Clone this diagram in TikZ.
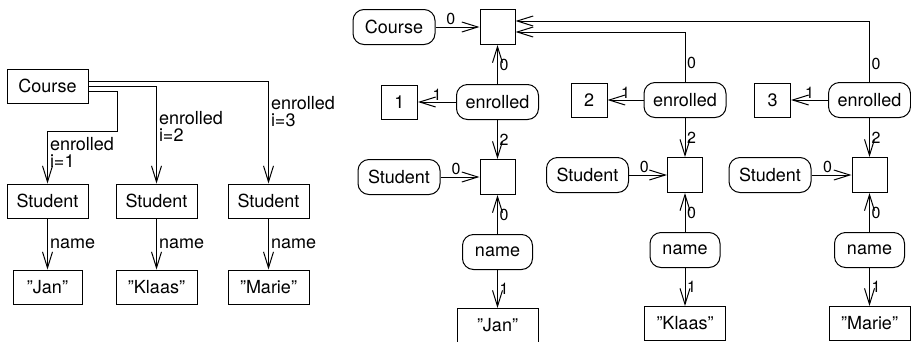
\documentclass[tikz,border=0pt]{standalone}
\usepackage{fontspec}
\setmainfont{TeX Gyre Heros}
\usepackage{tikz}
\usetikzlibrary{arrows.meta, positioning}

\begin{document}
\begin{tikzpicture}[
    x=1pt, y=-1pt,
    line width=1pt,
    font=\fontsize{18}{17}\selectfont,
    box/.style={draw, minimum width=81pt, minimum height=34pt, inner sep=2pt},
    attr/.style={draw, rounded corners=11pt, minimum width=82pt, minimum height=35pt, inner sep=2pt},
    hub/.style={draw, minimum width=35pt, minimum height=35pt, inner sep=0pt},
    arrow/.style={-{Straight Barb[length=16pt, width=10pt]}},
    lbl/.style={font=\fontsize{16}{16}\selectfont, inner sep=1.5pt},
    tag/.style={align=left, inner sep=2pt}
]
    \useasboundingbox (0,0) rectangle (911,341);

    % object diagram
    \node[box] (courseL) at (47.5,86) {Course};
    \node[box, below=80pt of courseL] (stuL1) {Student};
    \node[box, right=27pt of stuL1] (stuL2) {Student};
    \node[box, right=30pt of stuL2] (stuL3) {Student};
    \node[box, minimum width=69pt, below=51pt of stuL1] (valL1) {''Jan''};
    \node[box, below=51pt of stuL2] (valL2) {''Klaas''};
    \node[box, below=51pt of stuL3] (valL3) {''Marie''};
    \coordinate (bend1) at (117,131);

    \draw[arrow] ([yshift=-5pt]courseL.east) -| (bend1) -| (stuL1) node[tag, right, pos=0.7] {enrolled\\i=1};
    \draw[arrow] (courseL.east) -| (stuL2) node[tag, right, pos=0.705] {enrolled\\i=2};
    \draw[arrow] ([yshift=5pt]courseL.east) -| (stuL3) node[tag, right, pos=0.65] {enrolled\\i=3};
    \draw[arrow] (stuL1) -- node[tag, right] {name} (valL1);
    \draw[arrow] (stuL2) -- node[tag, right] {name} (valL2);
    \draw[arrow] (stuL3) -- node[tag, right] {name} (valL3);

    % graph encoding
    \node[hub] (top) at (497.5,27) {};
    \node[attr, left=44pt of top] (courseR) {Course};

    \node[attr, below=39pt of top] (enr1) {enrolled};
    \node[box, minimum width=36pt, left=38pt of enr1] (num1) {1};
    \node[hub, below=39pt of enr1] (obj1) {};
    \node[attr, left=39pt of obj1] (stuR1) {Student};
    \node[attr, minimum width=70pt, below=39pt of obj1] (name1) {name};
    \node[box, below=38pt of name1] (valR1) {''Jan''};

    \node[attr] (enr2) at (685,100) {enrolled};
    \node[box, minimum width=36pt, left=36pt of enr2] (num2) {2};
    \node[hub, below=39pt of enr2] (obj2) {};
    \node[attr, left=38pt of obj2] (stuR2) {Student};
    \node[attr, minimum width=70pt, below=39pt of obj2] (name2) {name};
    \node[box, below=38pt of name2] (valR2) {''Klaas''};

    \node[attr] (enr3) at (869.5,100) {enrolled};
    \node[box, minimum width=36pt, left=37pt of enr3] (num3) {3};
    \node[hub, below=39pt of enr3] (obj3) {};
    \node[attr, left=40pt of obj3] (stuR3) {Student};
    \node[attr, minimum width=70pt, below=39pt of obj3] (name3) {name};
    \node[box, below=38pt of name3] (valR3) {''Marie''};

    \draw[arrow] (courseR) -- node[lbl, above, pos=0.35] {0} (top);

    \draw[arrow] (enr1) -- node[lbl, right] {0} (top);
    \draw[arrow] (enr1) -- node[lbl, above] {1} (num1);
    \draw[arrow] (enr1) -- node[lbl, right] {2} (obj1);
    \draw[arrow] (stuR1) -- node[lbl, above, pos=0.4] {0} (obj1);
    \draw[arrow] (name1) -- node[lbl, right] {0} (obj1);
    \draw[arrow] (name1) -- node[lbl, right] {1} (valR1);

    \draw[arrow] (enr2) |- node[lbl, right, pos=0.19] {0} ([yshift=-5pt]top.east);
    \draw[arrow] (enr2) -- node[lbl, above] {1} (num2);
    \draw[arrow] (enr2) -- node[lbl, right] {2} (obj2);
    \draw[arrow] (stuR2) -- node[lbl, above, pos=0.4] {0} (obj2);
    \draw[arrow] (name2) -- node[lbl, right] {0} (obj2);
    \draw[arrow] (name2) -- node[lbl, right] {1} (valR2);

    \draw[arrow] (enr3) |- node[lbl, right, pos=0.15] {0} ([yshift=6pt]top.east);
    \draw[arrow] (enr3) -- node[lbl, above] {1} (num3);
    \draw[arrow] (enr3) -- node[lbl, right] {2} (obj3);
    \draw[arrow] (stuR3) -- node[lbl, above, pos=0.4] {0} (obj3);
    \draw[arrow] (name3) -- node[lbl, right] {0} (obj3);
    \draw[arrow] (name3) -- node[lbl, right] {1} (valR3);
\end{tikzpicture}
\end{document}
